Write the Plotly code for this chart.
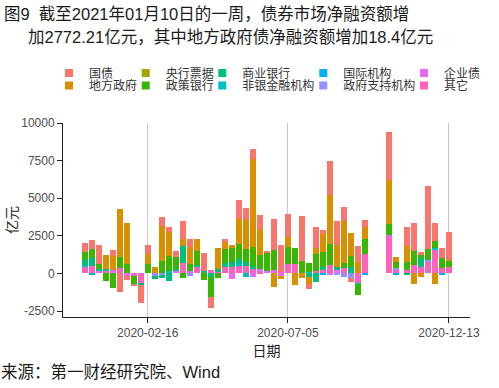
import plotly.graph_objects as go

dates = [
    "2019-12-15", "2019-12-22", "2019-12-29", "2020-01-05", "2020-01-12",
    "2020-01-19", "2020-01-26", "2020-02-02", "2020-02-09", "2020-02-16",
    "2020-02-23", "2020-03-01", "2020-03-08", "2020-03-15", "2020-03-22",
    "2020-03-29", "2020-04-05", "2020-04-12", "2020-04-19", "2020-04-26",
    "2020-05-03", "2020-05-10", "2020-05-17", "2020-05-24", "2020-05-31",
    "2020-06-07", "2020-06-14", "2020-06-21", "2020-06-28", "2020-07-05",
    "2020-07-12", "2020-07-19", "2020-07-26", "2020-08-02", "2020-08-09",
    "2020-08-16", "2020-08-23", "2020-08-30", "2020-09-06", "2020-09-13",
    "2020-09-20", "2020-10-14", "2020-10-21", "2020-11-01", "2020-11-08",
    "2020-11-15", "2020-11-22", "2020-11-29", "2020-12-06", "2020-12-13",
]

series_names = ["国债", "地方政府", "央行票据", "政策银行", "商业银行",
                "非银金融机构", "国际机构", "政府支持机构", "企业债", "其它"]
colors = ["#F8766D", "#D89000", "#A3A500", "#39B600", "#00BF7D",
          "#00BFC4", "#00B0F6", "#9590FF", "#E76BF3", "#FF62BC"]

guozhai = [620, 580, 1290, 0, 400, -1240, -220, -150, -1180, 620,
           0, 580, 355, 400, 1220, 555, 0, 1150, -730, 0,
           220, 0, 1270, 800, 665, 930, 130, 2020, 1800, 1550,
           0, 3000, -350, 1420, 220, 2290, 1620, 890, -310, 1110,
           510, 3180, 0, 1290, 1870, 220, 4180, 1200, 640, 1870]
difang = [0, 0, 0, 900, 890, 3200, 2750, 0, 0, 670,
          440, 2330, 1600, 0, 490, 1110, 780, 0, 0, 1400,
          440, 180, 1700, 1900, 5820, 1780, 0, -910, -200, 670,
          -800, -330, -450, 400, 1220, 3220, 1440, 2840, 1530, 730,
          780, 2930, 330, 1040, -690, -245, 0, -730, 0, 18.4]
yanghang = [0] * 50
zhengce = [510, 600, 290, -510, -980, 710, 600, -550, 0, 600,
           0, 840, 980, 780, -310, 490, 930, -450, -1330, -290,
           930, 950, 950, 900, 1240, 890, 1220, 1380, 0, 1110,
           1070, 840, 620, 1150, 1000, 1440, 0, 310, 760, -710,
           1000, 730, 420, 555, 955, 220, 730, 440, 640, 440]
shangye = [380, 510, 110, 110, 0, 0, 0, 0, -90, 0,
           -155, -200, -470, 100, 1130, 0, 180, 100, -240, 220,
           290, 330, 300, 250, 250, 0, 0, 0, 0, 0,
           0, 0, -250, -550, 220, 0, 220, 0, 400, 0,
           0, 0, 0, -70, 0, 620, 0, 0, 0, 0]
feiyin = [60, -110, 0, 0, 0, 0, 0, 0, 0, 0,
          0, 0, 155, 0, 0, 0, 0, 0, 0, 0,
          0, 0, 120, -220, 0, 0, 0, 0, 0, 0,
          0, 0, 100, 0, 0, 0, 0, 0, 0, -60,
          0, 0, 0, 0, 0, 0, 0, 90, 0, 0]
guoji = [0, 0, 0, 0, 0, 0, 0, 0, 0, 0,
         0, 0, 0, 0, 0, 0, 0, 80, 0, 0,
         0, 0, 0, 0, 0, 0, 0, 0, 0, 0,
         0, 0, 0, 0, -70, 0, 0, 0, 0, 0,
         -70, 0, -70, 0, 0, 0, 0, 0, -70, 0]
zhengfu = [0, 0, 0, 0, 0, 0, 0, 0, 0, 0,
           -200, -130, 0, 0, 0, -200, 0, 0, 0, 0,
           0, 0, 0, 0, 0, 0, 0, 0, 0, 0,
           0, 0, 0, 0, 0, 0, -130, -245, -270, 0,
           0, 0, 130, 0, 0, 0, 155, 0, 0, 0]
qiye = [0, 0, 200, 0, 245, 0, -200, 0, 0, 0,
        0, 0, 0, 220, 0, 155, 0, 0, 0, 0,
        0, -355, 0, 0, -260, 220, 155, 200, -200, 0,
        0, 0, 0, 0, 0, -130, 200, 0, 0, 0,
        0, 110, 0, 0, 0, 0, 0, 0, 0, 0]
qita = [470, 510, 0, 200, 0, 380, 0, -150, -690, 0,
        0, 0, 0, 0, 670, 0, 400, 0, 200, 90,
        420, 420, 560, 500, 270, 90, 0, 0, 100, 620,
        620, 0, 0, 150, 200, 530, 0, 355, 0, -670,
        1290, 2440, 240, 220, 530, 400, 730, 1600, 380, 440]

series_values = [guozhai, difang, yanghang, zhengce, shangye,
                 feiyin, guoji, zhengfu, qiye, qita]

x_tickvals = ["2020-02-16", "2020-07-05", "2020-12-13"]
y_tickvals = [-2500, 0, 2500, 5000, 7500, 10000]

W, H = 499, 388
ML, MR, MT, MB = 63, 29, 123, 71
PW, PH = W - ML - MR, H - MT - MB

def px_x(p):
    return (p - ML) / PW

def px_y(p):
    return (H - MB - p) / PH

FONT = "Liberation Sans, Arial, Noto Sans CJK SC, sans-serif"
bar_width = 6.3 * 86400000

fig = go.Figure()
# stack: last legend level (其它) nearest zero, 国债 outermost
for i in reversed(range(len(series_names))):
    fig.add_trace(go.Bar(
        x=dates, y=series_values[i], name=series_names[i],
        marker=dict(color=colors[i], line=dict(width=0)),
        width=bar_width, showlegend=False, hoverinfo="skip",
    ))

# legend keys: legend-only markers placed far outside the y range (clipped)
text_cols = [85, 161.7, 238.3, 339.3, 440]
rows = [73, 85.5]
legends = {}
for i, name in enumerate(series_names):
    key = "legend" if i == 0 else f"legend{i+1}"
    fig.add_trace(go.Scatter(
        x=[dates[0]], y=[-1e7], mode="markers", name=name,
        marker=dict(symbol="square", size=8, color=colors[i]),
        legend=key, showlegend=True,
        hoverinfo="skip", cliponaxis=True,
    ))
    col, row = i // 2, i % 2
    legends[key] = dict(
        xref="container", yref="container",
        x=(text_cols[col] + 4 - 40) / W, y=1 - rows[row] / H,
        xanchor="left", yanchor="middle",
        bgcolor="rgba(0,0,0,0)", borderwidth=0,
        font=dict(family=FONT, size=12, color="#333333"),
    )

fig.update_layout(
    width=W, height=H,
    margin=dict(l=ML, r=MR, t=MT, b=MB, pad=0, autoexpand=False),
    paper_bgcolor="white", plot_bgcolor="white",
    barmode="relative", bargap=0,
    font=dict(family=FONT, color="#222222"),
    **legends,
)

fig.update_xaxes(
    type="date", range=["2019-11-23 07:00", "2021-01-03 00:00"],
    tickvals=x_tickvals, ticktext=x_tickvals,
    showgrid=True, gridcolor="#C8C8C8", gridwidth=1,
    showline=True, linecolor="#222222", linewidth=1,
    ticks="outside", ticklen=5, tickcolor="#222222",
    tickfont=dict(family=FONT, size=12, color="#4D4D4D"),
    title=dict(text="日期", font=dict(family=FONT, size=14, color="#222222"), standoff=6),
    zeroline=False,
)
fig.update_yaxes(
    range=[-2896, 10006],
    tickvals=y_tickvals, ticktext=[str(v) for v in y_tickvals],
    showgrid=False, zeroline=False,
    showline=True, linecolor="#222222", linewidth=1,
    ticks="outside", ticklen=5, tickcolor="#222222",
    tickfont=dict(family=FONT, size=12, color="#4D4D4D"),
)

fig.add_annotation(text="亿元", textangle=-90,
                   xref="paper", yref="paper", x=px_x(12), y=px_y(220),
                   xanchor="center", yanchor="middle", showarrow=False,
                   font=dict(family=FONT, size=14, color="#222222"))
fig.add_annotation(text="图9  截至2021年01月10日的一周，债券市场净融资额增",
                   xref="paper", yref="paper", x=px_x(2), y=px_y(14),
                   xanchor="left", yanchor="middle", showarrow=False,
                   font=dict(family=FONT, size=16.5, color="#1A1A1A"))
fig.add_annotation(text="加2772.21亿元，其中地方政府债净融资额增加18.4亿元",
                   xref="paper", yref="paper", x=px_x(26), y=px_y(37),
                   xanchor="left", yanchor="middle", showarrow=False,
                   font=dict(family=FONT, size=16.5, color="#1A1A1A"))
fig.add_annotation(text="来源：第一财经研究院、Wind",
                   xref="paper", yref="paper", x=px_x(-1), y=px_y(372),
                   xanchor="left", yanchor="middle", showarrow=False,
                   font=dict(family=FONT, size=16.5, color="#1A1A1A"))

fig.write_html("out.html", config={"displayModeBar": False},
               post_script="document.body.style.margin='0';document.body.style.padding='0';")
